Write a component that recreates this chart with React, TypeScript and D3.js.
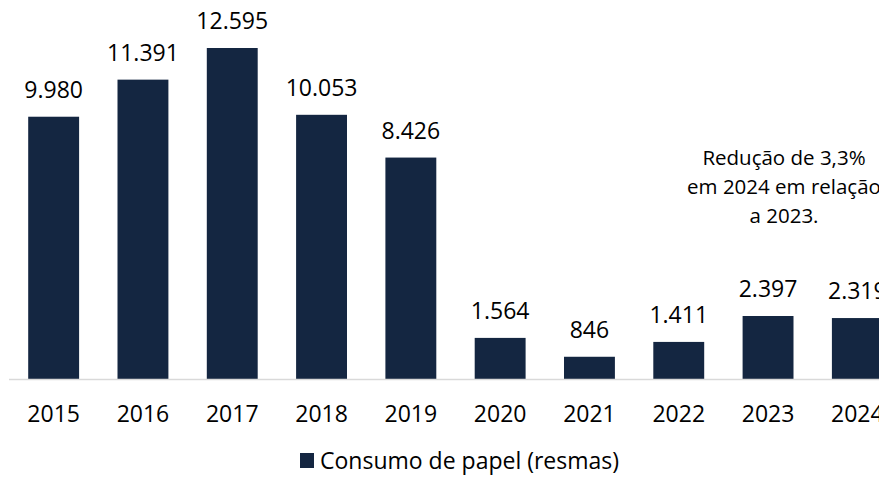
import React from "react";
import * as d3 from "d3";

const years = ["2015", "2016", "2017", "2018", "2019", "2020", "2021", "2022", "2023", "2024"];
const values = [9980, 11391, 12595, 10053, 8426, 1564, 846, 1411, 2397, 2319];
const valueLabels = ["9.980", "11.391", "12.595", "10.053", "8.426", "1.564", "846", "1.411", "2.397", "2.319"];
const seriesName = "Consumo de papel (resmas)";
const noteLines = ["Redução de 3,3%", "em 2024 em relação", "a 2023."];

const W = 879;
const H = 483;
const FONT = "'Open Sans', 'Noto Sans', sans-serif";
const BAR = "#142641";

export default function App() {
  const x = d3
    .scaleBand<string>()
    .domain(years)
    .range([9, 902])
    .paddingInner(0.43)
    .paddingOuter(0.215);
  const y = d3.scaleLinear().domain([0, 12595]).range([379, 48]);

  return (
    <svg
      width={W}
      height={H}
      style={{ position: "absolute", left: 0, top: 0, background: "#fff" }}
      fontFamily={FONT}
    >
      {years.map((yr, i) => (
        <rect
          key={yr}
          x={x(yr)!}
          y={y(values[i])}
          width={x.bandwidth()}
          height={y(0) - y(values[i])}
          fill={BAR}
        />
      ))}
      <line x1={9} x2={W} y1={379.5} y2={379.5} stroke="#d9d9d9" strokeWidth={1.5} />
      {years.map((yr, i) => (
        <text
          key={"v" + yr}
          x={x(yr)! + x.bandwidth() / 2}
          y={y(values[i]) - 19}
          textAnchor="middle"
          fontSize={23}
          fill="#000"
        >
          {valueLabels[i]}
        </text>
      ))}
      {years.map((yr) => (
        <text
          key={"t" + yr}
          x={x(yr)! + x.bandwidth() / 2}
          y={422}
          textAnchor="middle"
          fontSize={23}
          fill="#000"
        >
          {yr}
        </text>
      ))}
      {noteLines.map((l, i) => (
        <text key={"n" + i} x={784} y={165 + i * 29} textAnchor="middle" fontSize={20.5} fill="#000">
          {l}
        </text>
      ))}
      <rect x={300} y={453} width={14} height={15} fill={BAR} />
      <text x={320} y={469} fontSize={23} fill="#000">
        {seriesName}
      </text>
    </svg>
  );
}
